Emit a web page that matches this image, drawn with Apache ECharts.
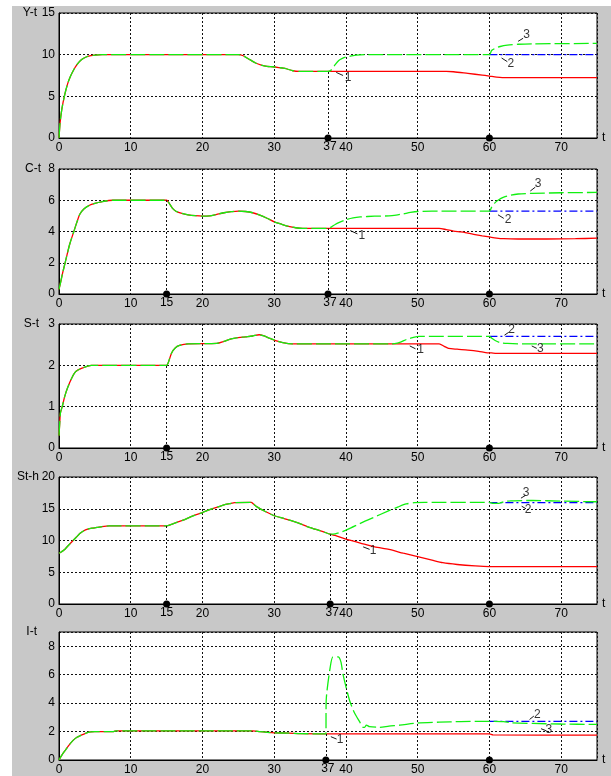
<!DOCTYPE html>
<html><head><meta charset="utf-8">
<script src="https://cdn.jsdelivr.net/npm/echarts@6/dist/echarts.min.js"></script>
<style>
html,body{margin:0;padding:0;background:#fff;}
#bg{position:absolute;left:12px;top:6px;width:599px;height:770px;background:#c8c8c8;}
#chart{position:absolute;left:0;top:0;width:611px;height:776px;}
</style></head><body>
<div id="bg"></div><div id="chart"></div>
<script>
// ---------- Panel 1: Y-t ----------
const Y_common = [[0,0],[0.15,1.8],[0.4,3.5],[0.8,5.2],[1.2,6.5],[1.6,7.4],[2,8.1],[2.5,8.8],[3,9.3],[3.5,9.6],[4,9.8],[5,9.95],[6,10],[25,10],[25.6,9.9],[26.6,9.4],[27.4,9.0],[28.2,8.75],[29,8.6],[29.8,8.55],[30.7,8.45],[31.5,8.35],[32.6,8.07],[33.5,8.0],[37.5,8.0]];
const Y_red = [[54,8],[55,7.95],[57,7.75],[59,7.55],[60,7.43],[61,7.3],[61.8,7.25],[75,7.25]];
const Y_green = [[38,8.2],[38.5,8.8],[39,9.3],[39.5,9.55],[40,9.7],[41,9.88],[42,9.97],[43,10],[60,10],[60.3,10.5],[60.8,10.75],[61.5,10.98],[62.5,11.15],[64,11.25],[66,11.3],[75,11.35]];
const Y_blue = [[60,10],[75,10]];
const Y_dots = [[37.5,'37'],[60,'']];
const Y_drops = [[37.5,8.0]];
const Y_notes = [['1',40.3,7.27,38.65,7.87,39.6,7.5],['2',63.0,8.95,61.7,9.6,62.5,9.16],['3',65.2,12.4,64.0,11.6,64.7,11.97]];

// ---------- Panel 2: C-t ----------
const C_common = [[0,0.3],[0.25,0.8],[0.5,1.33],[0.8,1.9],[1.05,2.38],[1.5,3.2],[2.07,4.0],[2.5,4.6],[2.9,5.1],[3.5,5.45],[4.25,5.68],[5,5.8],[5.9,5.9],[7.5,6],[15,6],[15.3,5.85],[15.8,5.5],[16.3,5.3],[17,5.18],[18,5.07],[19,5.01],[20,4.98],[21,5.0],[22,5.1],[23,5.2],[24,5.27],[25,5.31],[26,5.28],[27,5.2],[28,5.05],[29,4.85],[30,4.62],[31,4.47],[32,4.33],[33,4.24],[34,4.2],[37.5,4.2]];
const C_red = [[53,4.2],[54,4.12],[55,4.03],[56,3.97],[57,3.9],[58,3.8],[59,3.72],[60,3.65],[61,3.58],[62,3.54],[64,3.52],[68,3.52],[72,3.54],[75,3.57]];
const C_green = [[38,4.3],[38.5,4.45],[39,4.57],[40,4.75],[41,4.87],[42,4.93],[44,4.98],[46,5.0],[47,5.05],[48,5.13],[49,5.22],[50,5.28],[52,5.3],[60,5.3],[60.3,5.55],[60.7,5.8],[61.2,6.0],[62,6.2],[63,6.33],[64,6.4],[66,6.44],[70,6.48],[75,6.5]];
const C_blue = [[60,5.3],[75,5.3]];
const C_dots = [[15,'15'],[37.5,'37'],[60,'']];
const C_drops = [[15,6],[37.5,4.2]];
const C_notes = [['1',42.2,3.75,40.6,4.06,41.6,3.85],['2',62.6,4.74,61.2,5.07,62.0,4.84],['3',66.8,7.05,65.7,6.59,66.4,6.84]];

// ---------- Panel 3: S-t ----------
const S_common = [[0,0.3],[0.1,0.6],[0.2,0.85],[0.45,1.0],[0.8,1.25],[1.25,1.48],[1.8,1.7],[2.34,1.85],[3.2,1.93],[4.5,2.0],[15,2.0],[15.2,2.05],[15.7,2.3],[16.2,2.42],[16.8,2.48],[18,2.52],[22,2.53],[23,2.58],[24,2.64],[25,2.67],[26,2.69],[27,2.71],[27.9,2.74],[28.6,2.71],[29.3,2.66],[30.2,2.6],[31.2,2.55],[32.5,2.52],[46.5,2.52]];
const S_red = [[53,2.52],[53.7,2.46],[54.3,2.41],[55.5,2.39],[57,2.37],[58.5,2.34],[59.5,2.31],[60.3,2.3],[61,2.29],[75,2.29]];
const S_green = [[47,2.53],[47.7,2.57],[48.5,2.63],[49.3,2.67],[50.2,2.7],[52,2.7],[60,2.7],[60.3,2.66],[60.8,2.6],[61.5,2.55],[62.5,2.53],[64,2.52],[75,2.52]];
const S_blue = [[60,2.7],[75,2.7]];
const S_dots = [[15,'15'],[60,'']];
const S_drops = [[15,2.0]];
const S_notes = [['1',50.4,2.39,48.9,2.47,49.7,2.4],['2',63.1,2.87,62.1,2.73,62.7,2.8],['3',67.1,2.41,65.9,2.47,66.6,2.41]];

// ---------- Panel 4: St-h ----------
const H_common = [[0,8],[0.3,8.2],[0.7,8.5],[1.2,9.1],[1.8,9.8],[2.4,10.5],[2.9,11.1],[3.4,11.5],[4,11.8],[4.6,11.95],[5.3,12.05],[6,12.2],[7,12.3],[15,12.3],[15.65,12.55],[16.5,12.9],[17.3,13.2],[18.5,13.8],[20,14.4],[21,14.85],[22.2,15.3],[23,15.6],[23.8,15.8],[24.5,15.97],[26.8,16.0],[27.1,15.75],[27.6,15.3],[28.7,14.6],[30,13.9],[31.4,13.45],[33,12.9],[34.7,12.15],[36.8,11.4],[37.8,11.0]];
const H_red = [[38.5,10.8],[40,10.2],[42,9.6],[44,9.0],[46,8.6],[48,8.0],[50,7.45],[52,6.9],[53.5,6.5],[55.5,6.22],[58,6.0],[60,5.9],[75,5.88]];
const H_green = [[38.5,11.05],[39.5,11.4],[40.7,12.0],[42,12.7],[43.4,13.4],[46,14.7],[47.3,15.3],[48.4,15.75],[49.5,15.95],[51,16],[60,16],[60.5,15.85],[61.3,15.85],[62,16.1],[63,16.25],[66,16.3],[70,16.2],[75,16.1]];
const H_blue = [[60,15.95],[75,15.95]];
const H_dots = [[15,'15'],[37.8,'37'],[60,'']];
const H_drops = [[15,12.3],[37.8,11.0]];
const H_notes = [['1',43.8,8.33,42.4,9.0,43.3,8.6],['2',65.4,14.85,64.5,15.4,65.1,15.0],['3',65.1,17.6,64.4,16.67,65.0,17.08]];

// ---------- Panel 5: I-t ----------
const I_common = [[0,0],[0.4,0.35],[0.9,0.7],[1.4,1.05],[2,1.4],[2.5,1.6],[3.1,1.75],[3.7,1.88],[4.4,1.97],[5,2.0],[7.6,2.0],[8,2.05],[27,2.05],[28,2.0],[29,1.95],[30,1.91],[32,1.89],[33.7,1.85],[37.2,1.84]];
const I_red = [[60,1.84],[60.5,1.77],[75,1.75]];
const I_green = [[37.25,4.2],[37.8,6.5],[38.2,7.25],[38.9,7.25],[39.3,6.9],[39.6,6.0],[40.5,4.2],[41.2,3.3],[41.9,2.7],[42.4,2.3],[42.6,2.3],[42.85,2.45],[43.3,2.34],[44.7,2.3],[46,2.38],[47.5,2.45],[50,2.6],[53,2.66],[56,2.7],[60,2.72],[62,2.7],[63,2.62],[66,2.57],[70,2.53],[75,2.5]];
const I_blue = [[60,2.72],[75,2.72]];
const I_dots = [[37.2,'37'],[60,'']];
const I_drops = [[37.2,1.84]];
const I_notes = [['1',39.2,1.4,37.9,1.64,38.7,1.47],['2',66.7,3.2,65.6,2.85,66.2,3.09],['3',68.3,2.1,67.2,2.2,67.9,2.06]];

const X_MAX = 75, X_INTERVAL = 10;

const PANELS = [
  {name:'Y-t', pad:22, top:13, height:125, ymax:15, yint:5, common:Y_common, red:Y_red, green:Y_green, blue:Y_blue, dots:Y_dots, drops:Y_drops, notes:Y_notes},
  {name:'C-t', pad:18, top:169, height:125, ymax:8, yint:2, common:C_common, red:C_red, green:C_green, blue:C_blue, dots:C_dots, drops:C_drops, notes:C_notes},
  {name:'S-t', pad:20, top:324, height:124, ymax:3, yint:1, common:S_common, red:S_red, green:S_green, blue:S_blue, dots:S_dots, drops:S_drops, notes:S_notes},
  {name:'St-h', pad:20, top:477, height:127, ymax:20, yint:5, common:H_common, red:H_red, green:H_green, blue:H_blue, dots:H_dots, drops:H_drops, notes:H_notes},
  {name:'I-t', pad:22, top:632, height:128, ymax:9, yint:2, hideTop:true, common:I_common, red:I_red, green:I_green, blue:I_blue, dots:I_dots, drops:I_drops, notes:I_notes}
];

const FONT = 'Liberation Sans, Arial, sans-serif';
const grids = [], xAxes = [], yAxes = [], series = [];
const gridLine = {show:true, lineStyle:{color:'#111', type:[2,2], width:1}};

PANELS.forEach((p, i) => {
  grids.push({left:59, width:538, top:p.top, height:p.height, show:true, backgroundColor:'#fff', borderColor:'#000', borderWidth:1, containLabel:false});
  xAxes.push({
    type:'value', gridIndex:i, min:0, max:X_MAX, interval:X_INTERVAL,
    name:'t', nameLocation:'end', nameGap:5, nameMoveOverlap:false,
    nameTextStyle:{color:'#000', fontSize:12, fontFamily:FONT, verticalAlign:'middle', padding:[0,0,3,0]},
    axisLine:{show:true, lineStyle:{color:'#000', width:1}},
    axisTick:{show:false},
    axisLabel:{color:'#000', fontSize:12, fontFamily:FONT, margin:4, formatter:v => (v === X_MAX ? '' : String(v))},
    splitLine:gridLine
  });
  yAxes.push({
    type:'value', gridIndex:i, min:0, max:p.ymax, interval:p.yint,
    name:p.name, nameLocation:'end', nameGap:0, nameMoveOverlap:false,
    nameTextStyle:{color:'#000', fontSize:12, fontFamily:FONT, align:'right', verticalAlign:'middle', padding:[0,p.pad,0,0]},
    axisLine:{show:true, lineStyle:{color:'#000', width:1}},
    axisTick:{show:false},
    axisLabel:{color:'#000', fontSize:12, fontFamily:FONT, margin:4,
      formatter:v => ((p.hideTop && v === p.ymax) ? '' : String(v))},
    splitLine:gridLine
  });
  series.push({
    type:'line', xAxisIndex:i, yAxisIndex:i, data:p.common.concat(p.red),
    showSymbol:false, symbol:'none', smooth:0.25, z:2,
    lineStyle:{color:'#ff0000', width:1.3}
  });
  series.push({
    type:'line', xAxisIndex:i, yAxisIndex:i, data:p.blue,
    showSymbol:false, symbol:'none', z:3,
    lineStyle:{color:'#0000ff', width:1.2, type:[8,3,2,3]}
  });
  series.push({
    type:'line', xAxisIndex:i, yAxisIndex:i, data:p.common.concat(p.green),
    showSymbol:false, symbol:'none', smooth:0.25, z:4,
    lineStyle:{color:'#11f011', width:1.3, type:[15,4]}
  });
  const leaders = p.notes.map(n => [{coord:[n[3], n[4]], lineStyle:{color:'#000', type:'solid', width:0.9}}, {coord:[n[5], n[6]]}]);
  const drops = p.drops.map(d => [{coord:[d[0], 0], lineStyle:{color:'#111', type:[2,2], width:1}}, {coord:[d[0], d[1]]}]);
  series.push({
    type:'scatter', xAxisIndex:i, yAxisIndex:i, clip:false, z:6,
    data:p.notes.map(n => ({name:n[0], value:[n[1], n[2]]})),
    symbolSize:1, itemStyle:{color:'rgba(0,0,0,0)'},
    label:{show:true, formatter:'{b}', position:'inside', color:'#000', fontSize:12, fontFamily:FONT},
    markLine:{symbol:['none','none'], silent:true, animation:false, label:{show:false}, data:drops.concat(leaders)},
    markPoint:{silent:true, animation:false, data:p.dots.map(d => ({
      coord:[d[0], 0], symbol:'circle', symbolSize:7, itemStyle:{color:'#000'},
      label:{show:d[1] !== '', formatter:d[1], position:'bottom', distance:0,
        offset:[d[1] === '37' ? 2 : 0, -1], color:'#000', fontSize:12, fontFamily:FONT}
    }))}
  });
});

const chart = echarts.init(document.getElementById('chart'), null, {renderer:'canvas'});
chart.setOption({
  animation:false,
  backgroundColor:'transparent',
  grid:grids, xAxis:xAxes, yAxis:yAxes, series:series
});
</script></body></html>
